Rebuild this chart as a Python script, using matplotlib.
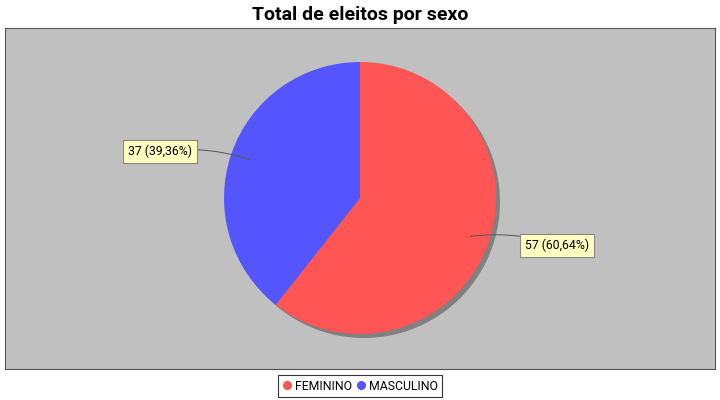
import numpy as np
import matplotlib
matplotlib.use("Agg")
import matplotlib.pyplot as plt
from matplotlib.lines import Line2D

plt.rcParams['font.family'] = ['Roboto', 'DejaVu Sans']

categories = ["FEMININO", "MASCULINO"]
values = [57, 37]
colors = ["#FF5555", "#5555FF"]
title = "Total de eleitos por sexo"

W, H = 720, 400
fig = plt.figure(figsize=(7.2, 4.0), dpi=100)
fig.patch.set_facecolor("white")

# plot area in pixel coordinates
px0, py0, px1, py1 = 5, 28, 715, 369
ax = fig.add_axes([px0 / W, (H - py1) / H, (px1 - px0) / W, (py1 - py0) / H])

cx, cy, r = 360, H - 198, 136
# shadow
ax.pie(values, colors=["#808080"] * len(values), startangle=90, counterclock=False,
       center=(cx + 4, cy - 4), radius=r, frame=True,
       wedgeprops=dict(linewidth=0))
wedges, _ = ax.pie(values, colors=colors, startangle=90, counterclock=False,
                   center=(cx, cy), radius=r, frame=True,
                   wedgeprops=dict(linewidth=0))
ax.set_xlim(px0, px1)
ax.set_ylim(H - py1, H - py0)
ax.set_aspect("auto")
ax.set_facecolor("#C0C0C0")
for s in ax.spines.values():
    s.set_color("#555555")
    s.set_linewidth(0.8)
ax.set_xticks([])
ax.set_yticks([])

total = sum(values)
label_dx = [165, -168]
label_dy = [-9, 8]
for i, w in enumerate(wedges):
    ang = np.deg2rad((w.theta1 + w.theta2) / 2)
    ax_x = cx + 0.86 * r * np.cos(ang)
    ax_y = cy + 0.86 * r * np.sin(ang)
    side = 1 if np.cos(ang) > 0 else -1
    tx = cx + label_dx[i]
    ty = ax_y + label_dy[i]
    pct = values[i] / total * 100
    txt = f"{values[i]} ({pct:.2f}%)".replace(".", ",")
    ax.annotate(txt, xy=(ax_x, ax_y), xytext=(tx, ty),
                ha="left" if side > 0 else "right", va="center",
                fontsize=8.8, color="black",
                bbox=dict(boxstyle="square,pad=0.42", fc="#FFFFC0", ec="#888888", lw=0.8),
                arrowprops=dict(arrowstyle="-", color="#555555", lw=0.7,
                                connectionstyle=f"arc3,rad={0.12 * side}",
                                shrinkA=0, shrinkB=0))

fig.text(0.5, 1 - 15 / H, title, ha="center", va="center", fontsize=14,
         fontweight="bold", color="black")

handles = [Line2D([0], [0], marker="o", linestyle="", markersize=5.5,
                  markerfacecolor=c, markeredgecolor=c) for c in colors]
leg = fig.legend(handles, categories, loc="center", bbox_to_anchor=(0.5, 1 - 386 / H),
                 ncol=2, frameon=True, fontsize=8.8, handletextpad=0.25,
                 columnspacing=0.3, borderpad=0.35, handlelength=0.8,
                 borderaxespad=0, fancybox=False, edgecolor="black")
leg.get_frame().set_linewidth(0.8)

fig.savefig("out.png", dpi=100)
